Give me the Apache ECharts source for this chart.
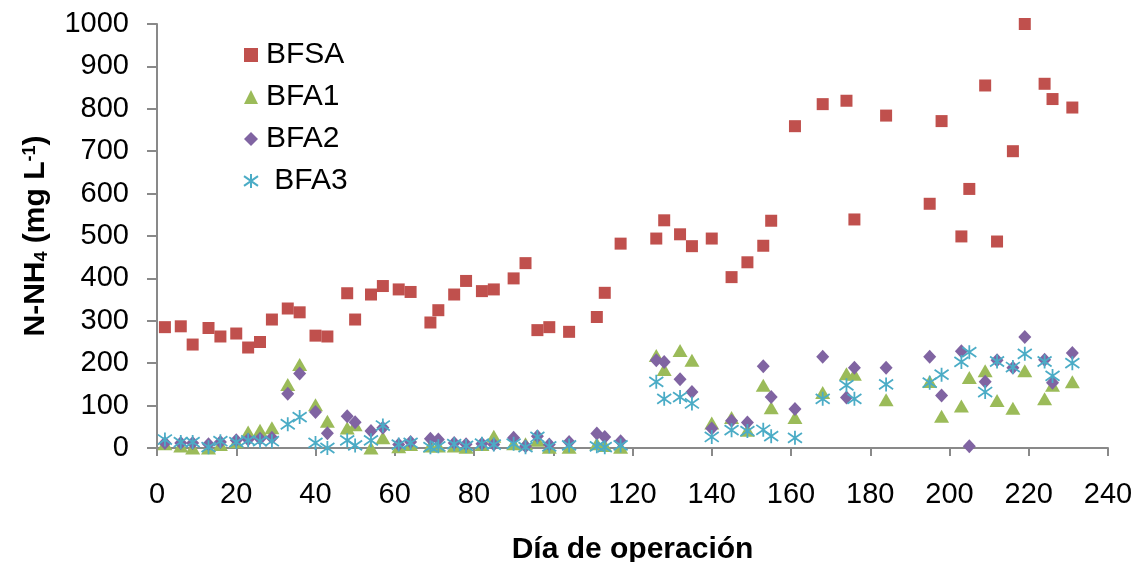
<!DOCTYPE html>
<html>
<head>
<meta charset="utf-8">
<script src="https://cdn.jsdelivr.net/npm/echarts@6/dist/echarts.min.js"></script>
<style>
  html, body { margin: 0; padding: 0; background: #fff; }
  #chart { width: 1138px; height: 562px; }
</style>
</head>
<body>
<div id="chart"></div>
<script>
// días de muestreo
var dias = [2, 6, 9, 13, 16, 20, 23, 26, 29, 33, 36, 40, 43, 48, 50, 54, 57, 61, 64, 69, 71, 75, 78, 82, 85, 90, 93, 96, 99, 104, 111, 113, 117,
  126, 128, 132, 135, 140, 145, 149, 153, 155, 161, 168, 174, 176, 184, 195, 198, 203, 205, 209, 212, 216, 219, 224, 226, 231];

var bfsa = [285, 287, 244, 283, 263, 270, 237, 250, 303, 329, 320, 265, 263, 365, 303, 362, 382, 374, 368, 296, 325, 362, 394, 370, 374, 400, 436, 278, 285, 274, 309, 366, 482,
  494, 537, 504, 476, 494, 403, 438, 477, 536, 759, 811, 819, 539, 784, 576, 771, 499, 611, 855, 487, 700, 1000, 859, 823, 803];

var bfa1 = [10, 5, 0, 0, 8, 15, 38, 42, 48, 150, 197, 102, 63, 47, 55, 0, 24, 3, 8, 5, 5, 5, 2, 8, 28, 10, 10, 18, 2, 2, 10, 6, 2,
  218, 185, 230, 207, 59, 72, 42, 148, 95, 72, 131, 175, 174, 114, 157, 75, 99, 166, 182, 112, 94, 182, 116, 148, 156];

var bfa2 = [12, 12, 12, 9, 14, 18, 20, 22, 24, 128, 176, 85, 35, 75, 61, 40, 48, 8, 14, 22, 20, 12, 9, 10, 8, 24, 4, 28, 8, 14, 34, 26, 16,
  207, 203, 162, 132, 46, 64, 60, 193, 120, 92, 215, 119, 189, 189, 215, 124, 228, 4, 156, 207, 189, 262, 208, 154, 224];

var bfa3 = [20, 14, 14, 2, 16, 14, 18, 16, 16, 56, 73, 12, 0, 18, 6, 18, 53, 8, 12, 2, 4, 9, 5, 10, 8, 10, 2, 26, 4, 6, 4, 2, 6,
  156, 116, 120, 105, 26, 42, 40, 43, 28, 24, 116, 148, 116, 150, 154, 173, 203, 226, 132, 204, 191, 222, 204, 170, 200];

var nombres = ['BFSA', 'BFA1', 'BFA2', ' BFA3'];

function pares(ys) {
  var out = [];
  for (var i = 0; i < dias.length; i++) out.push([dias[i], ys[i]]);
  return out;
}

var chart = echarts.init(document.getElementById('chart'));
var font = 'Liberation Sans, Arial, sans-serif';
var ejeColor = '#898989';

var option = {
  animation: false,
  backgroundColor: '#fff',
  grid: { left: 157, right: 30, top: 24, bottom: 114, containLabel: false, outerBoundsMode: 'none' },
  legend: {
    orient: 'vertical',
    left: 238,
    top: 35,
    itemWidth: 14,
    itemHeight: 14,
    itemGap: 12,
    textStyle: { fontFamily: font, fontSize: 30, color: '#000', padding: [0, 0, 0, 3] },
    data: nombres
  },
  xAxis: {
    type: 'value',
    min: 0, max: 240, interval: 20,
    name: 'Día de operación',
    nameLocation: 'middle',
    nameGap: 87,
    nameTextStyle: { fontFamily: font, fontSize: 30, fontWeight: 'bold', color: '#000' },
    axisLine: { show: true, lineStyle: { color: ejeColor, width: 2 } },
    axisTick: { show: true, length: 8, lineStyle: { color: ejeColor, width: 2 } },
    axisLabel: { fontFamily: font, fontSize: 29, color: '#000', margin: 32 },
    splitLine: { show: false }
  },
  yAxis: {
    type: 'value',
    min: 0, max: 1000, interval: 100,
    name: 'N-NH{sub|4} (mg L{sup|-1})',
    nameLocation: 'middle',
    nameRotate: 90,
    nameGap: 106,
    nameTextStyle: {
      fontFamily: font, fontSize: 30, fontWeight: 'bold', color: '#000',
      rich: {
        sub: { fontFamily: font, fontSize: 18, fontWeight: 'bold', color: '#000', verticalAlign: 'bottom', padding: [12, 0, 0, 0] },
        sup: { fontFamily: font, fontSize: 18, fontWeight: 'bold', color: '#000', verticalAlign: 'top', padding: [0, 0, 12, 0] }
      }
    },
    axisLine: { show: true, lineStyle: { color: ejeColor, width: 2 } },
    axisTick: { show: true, length: 10, lineStyle: { color: ejeColor, width: 2 } },
    axisLabel: { fontFamily: font, fontSize: 29, color: '#000', margin: 28, formatter: function (v) { return String(v); } },
    splitLine: { show: false }
  },
  series: [
    {
      name: nombres[0], type: 'scatter', symbol: 'rect', symbolSize: 12,
      itemStyle: { color: '#C0504D', opacity: 1 },
      data: pares(bfsa)
    },
    {
      name: nombres[1], type: 'scatter', symbol: 'triangle', symbolSize: [15, 13],
      itemStyle: { color: '#9BBB59', opacity: 1 },
      data: pares(bfa1)
    },
    {
      name: nombres[2], type: 'scatter', symbol: 'diamond', symbolSize: [13, 14],
      itemStyle: { color: '#8064A2', opacity: 1 },
      data: pares(bfa2)
    },
    {
      name: nombres[3], type: 'scatter',
      symbol: 'path://M5,0L5,10M0,1.5L10,8.5M0,8.5L10,1.5',
      symbolSize: 14,
      itemStyle: { color: 'rgba(0,0,0,0)', borderColor: '#4BACC6', borderWidth: 1.8, opacity: 1 },
      data: pares(bfa3)
    }
  ]
};
chart.setOption(option);
</script>
</body>
</html>
